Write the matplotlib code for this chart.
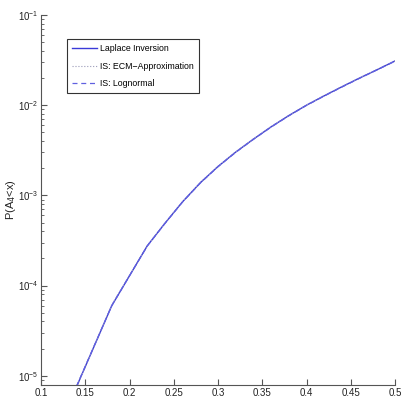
import matplotlib
matplotlib.use("Agg")
import matplotlib.pyplot as plt
from matplotlib.ticker import LogLocator, NullFormatter

# data
x_vals = [0.14, 0.18, 0.22, 0.24, 0.26, 0.28, 0.30, 0.32, 0.34, 0.36, 0.38,
          0.40, 0.42, 0.44, 0.46, 0.48, 0.50]
laplace = [7.5e-6, 6.0e-5, 2.75e-4, 4.9e-4, 8.5e-4, 1.38e-3, 2.09e-3, 3.02e-3,
           4.2e-3, 5.75e-3, 7.67e-3, 1.0e-2, 1.27e-2, 1.6e-2, 2.0e-2, 2.48e-2, 3.09e-2]
is_ecm = [7.4e-6, 6.1e-5, 2.76e-4, 4.92e-4, 8.55e-4, 1.39e-3, 2.1e-3, 3.04e-3,
          4.23e-3, 5.79e-3, 7.71e-3, 1.005e-2, 1.28e-2, 1.61e-2, 2.01e-2, 2.49e-2, 3.1e-2]
is_lognormal = [7.6e-6, 6.0e-5, 2.74e-4, 4.88e-4, 8.46e-4, 1.37e-3, 2.08e-3, 3.0e-3,
                4.18e-3, 5.72e-3, 7.63e-3, 0.995e-2, 1.265e-2, 1.59e-2, 1.99e-2, 2.47e-2, 3.08e-2]

x_ticks = [0.1, 0.15, 0.2, 0.25, 0.3, 0.35, 0.4, 0.45, 0.5]
x_tick_labels = ["0.1", "0.15", "0.2", "0.25", "0.3", "0.35", "0.4", "0.45", "0.5"]


def main():
    plt.rcParams['font.family'] = ['Liberation Sans', 'DejaVu Sans']
    fig = plt.figure(figsize=(4.01, 4.01), dpi=100)
    ax = fig.add_axes([41 / 401, 16 / 401, 354 / 401, 370 / 401])

    ax.plot(x_vals, laplace, color='#3a3ad8', lw=1.0, label='Laplace Inversion')
    ax.plot(x_vals, is_ecm, color='#9a9ab8', lw=0.8, ls=':', label='IS: ECM\u2212Approximation')
    ax.plot(x_vals, is_lognormal, color='#6060e0', lw=0.9, ls=(0, (4, 3)), label='IS: Lognormal')

    ax.set_yscale('log')
    ax.set_xlim(0.1, 0.5)
    ax.set_ylim(7.9e-6, 0.1)
    ax.set_xticks(x_ticks)
    ax.set_xticklabels(x_tick_labels)
    ax.yaxis.set_major_locator(LogLocator(base=10, numticks=10))
    ax.yaxis.set_minor_locator(LogLocator(base=10, subs=range(2, 10), numticks=20))
    ax.yaxis.set_minor_formatter(NullFormatter())

    for side in ['top', 'right']:
        ax.spines[side].set_visible(False)
    for side in ['left', 'bottom']:
        ax.spines[side].set_color('#555555')
        ax.spines[side].set_linewidth(0.8)

    ax.tick_params(which='both', direction='in', colors='#555555', labelcolor='#222222', labelsize=7)
    ax.tick_params(which='major', length=4)
    ax.tick_params(which='minor', length=2)
    ax.tick_params(axis='x', pad=2)
    ax.tick_params(axis='y', pad=2)

    ax.set_ylabel(r'P(A$_4$<x)', fontsize=8, color='#222222', labelpad=0)

    leg = ax.legend(loc='upper left', bbox_to_anchor=(0.073, 0.935), fontsize=6.3,
                    frameon=True, fancybox=False, borderpad=0.6, handlelength=2.9,
                    labelspacing=0.95, handletextpad=0.3, borderaxespad=0)
    leg.get_frame().set_edgecolor('black')
    leg.get_frame().set_linewidth(0.8)

    fig.savefig('out.png', dpi=100)


if __name__ == "__main__":
    main()
